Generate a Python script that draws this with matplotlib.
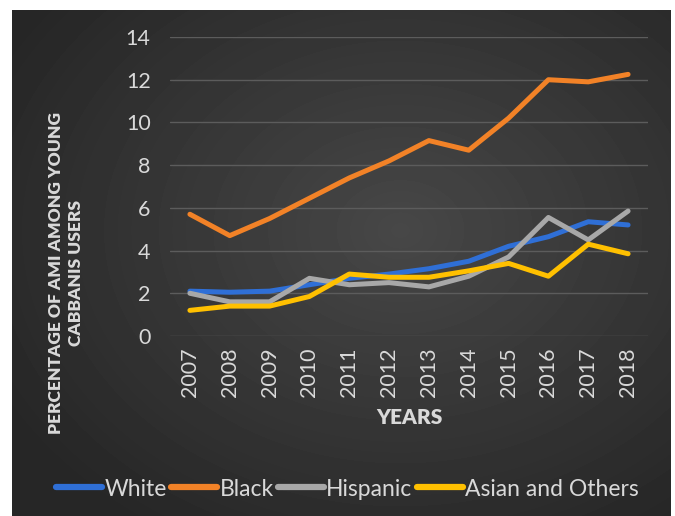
import numpy as np
import matplotlib
matplotlib.use("Agg")
import matplotlib.pyplot as plt

years = ["2007", "2008", "2009", "2010", "2011", "2012",
         "2013", "2014", "2015", "2016", "2017", "2018"]
white = [2.1, 2.05, 2.1, 2.4, 2.7, 2.9, 3.15, 3.5, 4.2, 4.65, 5.35, 5.2]
black = [5.7, 4.7, 5.5, 6.45, 7.4, 8.2, 9.15, 8.7, 10.2, 12.0, 11.9, 12.25]
hispanic = [2.0, 1.6, 1.6, 2.7, 2.4, 2.5, 2.3, 2.8, 3.7, 5.55, 4.5, 5.85]
asian = [1.2, 1.4, 1.4, 1.85, 2.9, 2.75, 2.75, 3.05, 3.4, 2.8, 4.3, 3.85]

series = [("White", white, "#2f6fd6"),
          ("Black", black, "#f28227"),
          ("Hispanic", hispanic, "#a8a8a8"),
          ("Asian and Others", asian, "#ffc000")]

plt.rcParams["font.family"] = ["Lato", "DejaVu Sans"]
plt.rcParams["lines.solid_capstyle"] = "round"
plt.rcParams["lines.solid_joinstyle"] = "round"
txt = "#d9d9d9"

W, H = 675, 516
fig = plt.figure(figsize=(W / 100, H / 100), dpi=100)
fig.patch.set_facecolor("white")

# dark panel with a soft radial gradient
bg = fig.add_axes([0, 0, 1, 1], zorder=0)
bg.set_xlim(0, W)
bg.set_ylim(H, 0)
bg.axis("off")
yy, xx = np.mgrid[10:H, 12:671]
r = np.hypot((xx - 400) / 420, (yy - 230) / 330)
shade = np.clip(0.28 - 0.12 * r, 0.15, 0.28)
bg.imshow(shade, cmap="gray", vmin=0, vmax=1, extent=(12, 671, H, 10),
          aspect="auto", interpolation="bilinear")

ax = fig.add_axes([170 / W, 1 - 336 / H, (648 - 170) / W, (336 - 37) / H], zorder=1)
ax.patch.set_alpha(0)
x = np.arange(len(years))
for name, vals, c in series:
    ax.plot(x, vals, color=c, lw=3.6, label=name)

ax.set_xlim(-0.5, len(years) - 0.5)
ax.set_ylim(0, 14)
ax.set_yticks(range(0, 15, 2))
ax.set_xticks(x)
ax.set_xticklabels(years, rotation=90)
ax.tick_params(colors=txt, labelsize=15.5, length=0, pad=8)
ax.tick_params(axis="y", pad=14)
ax.grid(axis="y", color="#5c5c5c", lw=1)
ax.set_axisbelow(True)
for s in ax.spines.values():
    s.set_visible(False)

ax.set_xlabel("YEARS", color=txt, fontsize=15, fontweight="heavy", labelpad=8)
fig.text(66 / W, 1 - 273 / H, "PERCENTAGE OF AMI AMONG YOUNG\nCABBANIS USERS",
         rotation=90, ha="center", va="center", color=txt, fontsize=12.5,
         fontweight="heavy", linespacing=1.3)

leg = fig.legend(loc="center", bbox_to_anchor=(0.515, 1 - 489 / H), ncol=4,
                 frameon=False, fontsize=16.5, handlelength=2.0,
                 handletextpad=0.1, columnspacing=0.2, labelcolor=txt)
for h in leg.get_lines():
    h.set_linewidth(4.5)

fig.savefig("out.png", dpi=100)
